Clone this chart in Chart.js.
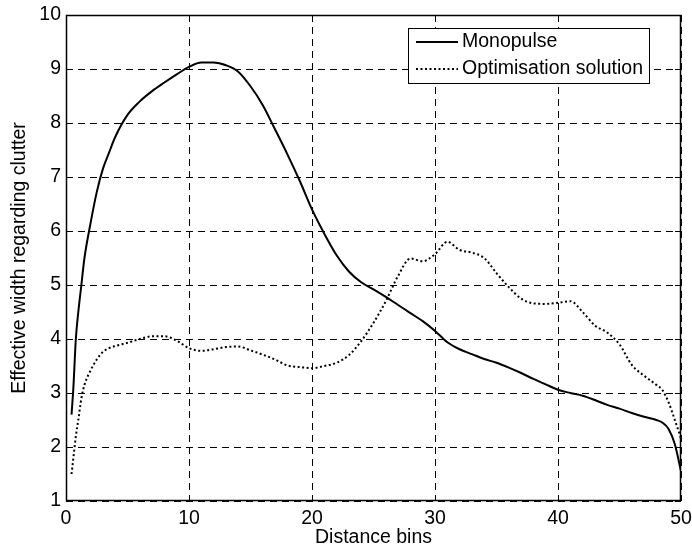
<!DOCTYPE html>
<html>
<head>
<meta charset="utf-8">
<script src="https://cdn.jsdelivr.net/npm/chart.js@4.4.1/dist/chart.umd.min.js"></script>
<style>
    html, body { margin: 0; padding: 0; background: #fff; }
</style>
</head>
<body>
<canvas id="chart" width="692" height="551"></canvas>
<script>
// distance bins (x) shared by both curves
var bins = [0.45, 0.6, 0.8, 1, 1.25, 1.5, 2, 2.5, 3, 3.5, 4, 5, 6, 7, 8, 9, 10,
    11, 12, 13, 14, 15, 16, 17, 18, 19, 20, 21, 22, 23, 24, 25, 26, 27, 28, 29, 30,
    31, 32, 33, 34, 35, 36, 37, 38, 39, 40, 41, 42, 43, 44, 45, 46, 47, 48, 48.5, 49, 49.5, 50];

var monopulse = [2.6, 3.1, 4.0, 4.5, 5.0, 5.5, 6.15, 6.72, 7.15, 7.45, 7.74, 8.15, 8.4, 8.59, 8.75, 8.9, 9.04,
    9.12, 9.12, 9.07, 8.95, 8.68, 8.33, 7.88, 7.42, 6.93, 6.4, 5.95, 5.55, 5.25, 5.05, 4.92, 4.78, 4.63, 4.48, 4.33, 4.15,
    3.94, 3.81, 3.72, 3.63, 3.56, 3.47, 3.37, 3.26, 3.16, 3.06, 3.0, 2.95, 2.87, 2.78, 2.71, 2.63, 2.56, 2.5, 2.45, 2.33, 2.05, 1.55];

var optimisation = [1.5, 1.8, 2.2, 2.5, 2.9, 3.15, 3.42, 3.62, 3.76, 3.83, 3.87, 3.93, 4.0, 4.05, 4.05, 3.97, 3.83,
    3.78, 3.81, 3.85, 3.86, 3.79, 3.71, 3.62, 3.51, 3.48, 3.46, 3.5, 3.56, 3.7, 3.96, 4.3, 4.7, 5.17, 5.49, 5.44, 5.57,
    5.8, 5.65, 5.6, 5.5, 5.22, 4.96, 4.75, 4.66, 4.65, 4.67, 4.7, 4.5, 4.25, 4.12, 3.9, 3.52, 3.32, 3.15, 3.05, 2.82, 2.5, 2.16];

var xTicks = [0, 10, 20, 30, 40, 50];
var yTicks = [1, 2, 3, 4, 5, 6, 7, 8, 9, 10];

var FONT = 'Arial, "Liberation Sans", sans-serif';
var FS = 19.5;

function toPoints(ys) {
    return bins.map(function (x, i) { return {x: x, y: ys[i]}; });
}

// box round the axes, inner ticks and the legend (drawn on top, like matlab)
var matlabBox = {
    id: 'matlabBox',
    afterDraw: function (chart) {
        var ctx = chart.ctx;
        var a = chart.chartArea;
        var xs = chart.scales.x, ys = chart.scales.y;
        ctx.save();
        ctx.strokeStyle = '#000';
        ctx.lineWidth = 1;
        ctx.setLineDash([]);

        // inner tick marks
        ctx.beginPath();
        xTicks.forEach(function (v) {
            var px = Math.round(xs.getPixelForValue(v)) + 0.5;
            ctx.moveTo(px, a.bottom); ctx.lineTo(px, a.bottom - 6);
            ctx.moveTo(px, a.top); ctx.lineTo(px, a.top + 6);
        });
        yTicks.forEach(function (v) {
            var py = Math.round(ys.getPixelForValue(v)) + 0.5;
            ctx.moveTo(a.left, py); ctx.lineTo(a.left + 6, py);
            ctx.moveTo(a.right, py); ctx.lineTo(a.right - 6, py);
        });
        ctx.stroke();

        ctx.lineWidth = 1.5;
        ctx.strokeRect(a.left + 0.5, a.top + 0.5, a.right - a.left - 1, a.bottom - a.top - 1);

        // legend
        var lx = a.right - 273, ly = a.top + 13, lw = 241, lh = 55;
        ctx.fillStyle = '#fff';
        ctx.fillRect(lx, ly, lw, lh);
        ctx.lineWidth = 1;
        ctx.strokeRect(lx + 0.5, ly + 0.5, lw, lh);
        ctx.font = FS + 'px ' + FONT;
        ctx.textBaseline = 'middle';
        ctx.fillStyle = '#000';
        chart.data.datasets.forEach(function (ds, i) {
            var cy = ly + 14 + i * 27;
            ctx.beginPath();
            ctx.lineWidth = ds.borderWidth;
            ctx.setLineDash(ds.borderDash || []);
            ctx.moveTo(lx + 8, cy);
            ctx.lineTo(lx + 50, cy);
            ctx.stroke();
            ctx.setLineDash([]);
            ctx.fillText(ds.label, lx + 54, cy);
        });
        ctx.restore();
    }
};

var ctx = document.getElementById('chart').getContext('2d');
new Chart(ctx, {
    type: 'line',
    data: {
        datasets: [
            {
                label: 'Monopulse',
                data: toPoints(monopulse),
                borderColor: '#000',
                borderWidth: 2,
                pointRadius: 0,
                fill: false,
                cubicInterpolationMode: 'monotone'
            },
            {
                label: 'Optimisation solution',
                data: toPoints(optimisation),
                borderColor: '#000',
                borderWidth: 2,
                borderDash: [2, 2.5],
                pointRadius: 0,
                fill: false,
                cubicInterpolationMode: 'monotone'
            }
        ]
    },
    options: {
        responsive: false,
        animation: false,
        layout: {padding: {left: 0, right: 11, top: 15, bottom: 0}},
        plugins: {
            legend: {display: false},
            tooltip: {enabled: false}
        },
        scales: {
            x: {
                type: 'linear',
                min: 0,
                max: 50,
                afterFit: function (s) {
                    s.height = 50;
                    s.paddingLeft = 0;
                    s.paddingRight = 0;
                },
                afterBuildTicks: function (s) { s.ticks = xTicks.map(function (v) { return {value: v}; }); },
                grid: {color: '#000', lineWidth: 1, drawTicks: false},
                border: {display: false, dash: [7, 5]},
                ticks: {color: '#000', font: {family: FONT, size: FS}, padding: 6, maxRotation: 0},
                title: {display: true, text: 'Distance bins', color: '#000',
                    font: {family: FONT, size: FS}, padding: {top: 0, bottom: 2}}
            },
            y: {
                min: 1,
                max: 10,
                afterFit: function (s) {
                    s.width = 66;
                    s.paddingTop = 0;
                    s.paddingBottom = 0;
                },
                afterBuildTicks: function (s) { s.ticks = yTicks.map(function (v) { return {value: v}; }); },
                grid: {color: '#000', lineWidth: 1, drawTicks: false},
                border: {display: false, dash: [7, 5]},
                ticks: {color: '#000', font: {family: FONT, size: FS}, padding: 5},
                title: {display: true, text: 'Effective width regarding clutter', color: '#000',
                    font: {family: FONT, size: FS}, padding: {top: 8, bottom: 0}}
            }
        }
    },
    plugins: [matlabBox]
});
</script>
</body>
</html>
